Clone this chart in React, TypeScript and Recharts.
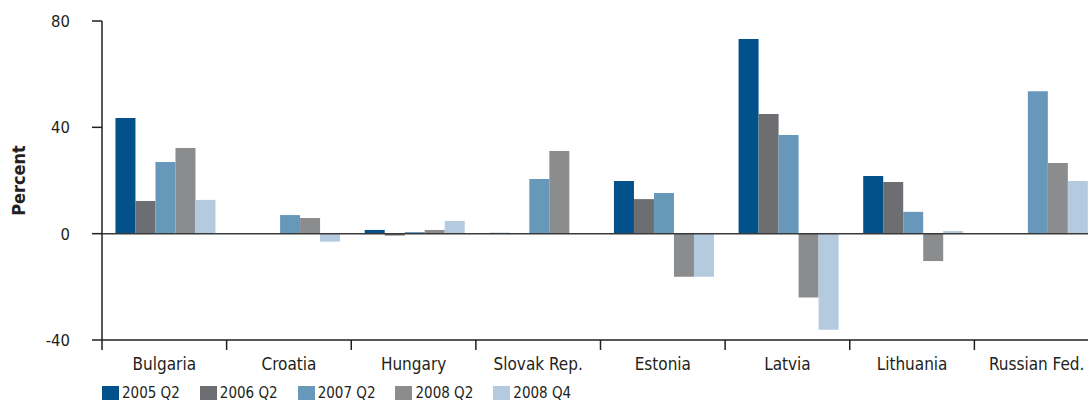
import React from "react";
import { BarChart, Bar, XAxis, YAxis, ReferenceLine } from "recharts";

const categories = [
  "Bulgaria",
  "Croatia",
  "Hungary",
  "Slovak Rep.",
  "Estonia",
  "Latvia",
  "Lithuania",
  "Russian Fed.",
];

const q2_2005 = [43.5, 0.2, 1.4, 0.3, 19.8, 73.2, 21.7, 0.2];
const q2_2006 = [12.3, 0.2, -0.7, 0.2, 13.0, 45.0, 19.4, 0.2];
const q2_2007 = [27.0, 7.0, 0.6, 20.6, 15.3, 37.1, 8.2, 53.6];
const q2_2008 = [32.2, 5.9, 1.4, 31.1, -16.2, -24.0, -10.3, 26.6];
const q4_2008 = [12.7, -3.0, 4.8, 0, -16.2, -36.1, 1.0, 19.8];

const yTicks = [-40, 0, 40, 80];

const series = [
  { key: "s2005q2", name: "2005 Q2", values: q2_2005, color: "#03518a" },
  { key: "s2006q2", name: "2006 Q2", values: q2_2006, color: "#6d6e71" },
  { key: "s2007q2", name: "2007 Q2", values: q2_2007, color: "#6798ba" },
  { key: "s2008q2", name: "2008 Q2", values: q2_2008, color: "#8b8c8e" },
  { key: "s2008q4", name: "2008 Q4", values: q4_2008, color: "#b4cadf" },
];

const data = categories.map((name, i) => {
  const row: Record<string, string | number> = { name };
  series.forEach((s) => {
    row[s.key] = s.values[i];
  });
  return row;
});

const FONT = "'DejaVu Sans Condensed', 'DejaVu Sans', sans-serif";
const INK = "#231f20";

const W = 1100;
const H = 410;
const M = { top: 21, right: 1, bottom: 30, left: 0 };
const Y_W = 102;
const X_H = 40;
const BAND = (W - M.left - M.right - Y_W) / categories.length;

// category label centred in the band, tick mark on the band's left edge
const CategoryTick = (props: any) => {
  const { x, y, payload } = props;
  const axisY = y - 16;
  const edge = x - BAND / 2;
  return (
    <g>
      <line x1={edge} y1={axisY} x2={edge} y2={axisY + 10} stroke={INK} strokeWidth={1.5} />
      <text
        x={x}
        y={axisY + 30}
        textAnchor="middle"
        fill={INK}
        fontSize={17}
        fontFamily={FONT}
      >
        {payload.value}
      </text>
    </g>
  );
};

const PercentLabel = (props: any) => {
  const vb = props.viewBox || {};
  const cy = (vb.y ?? M.top) + (vb.height ?? 0) / 2;
  return (
    <text
      x={18}
      y={cy}
      transform={`rotate(-90, 18, ${cy})`}
      textAnchor="middle"
      dominantBaseline="central"
      fontWeight="bold"
      fontSize={18}
      fontFamily={FONT}
      fill={INK}
    >
      Percent
    </text>
  );
};

export default function App() {
  return (
    <div
      style={{
        position: "absolute",
        left: 0,
        top: 0,
        width: 1088,
        height: H,
        overflow: "hidden",
        background: "#fff",
      }}
    >
      <BarChart
        width={W}
        height={H}
        data={data}
        margin={M}
        barCategoryGap="10.8%"
        barGap={0}
      >
        <XAxis
          dataKey="name"
          height={X_H}
          axisLine={{ stroke: INK, strokeWidth: 1.5 }}
          tickLine={{ stroke: "none" }}
          tickSize={10}
          tickMargin={6}
          interval={0}
          tick={<CategoryTick />}
        />
        <YAxis
          width={Y_W}
          domain={[-40, 80]}
          ticks={yTicks}
          allowDataOverflow
          axisLine={{ stroke: INK, strokeWidth: 1.5 }}
          tickLine={{ stroke: INK, strokeWidth: 1.5 }}
          tickSize={10}
          tickMargin={22}
          tick={{ fill: INK, fontSize: 16.5, fontFamily: FONT }}
          label={PercentLabel}
        />
        {series.map((s) => (
          <Bar
            key={s.key}
            dataKey={s.key}
            name={s.name}
            fill={s.color}
            isAnimationActive={false}
          />
        ))}
        <ReferenceLine y={0} stroke="#3a3a3a" strokeWidth={1.5} />
      </BarChart>
      <div
        style={{
          position: "absolute",
          left: 102,
          top: 384,
          display: "flex",
          alignItems: "center",
          fontFamily: FONT,
          fontSize: 15,
          color: INK,
        }}
      >
        {series.map((s) => (
          <div
            key={s.key}
            style={{ display: "flex", alignItems: "center", marginRight: 20 }}
          >
            <span
              style={{
                display: "inline-block",
                width: 17,
                height: 14,
                background: s.color,
                marginRight: 3,
              }}
            />
            <span>{s.name}</span>
          </div>
        ))}
      </div>
    </div>
  );
}
